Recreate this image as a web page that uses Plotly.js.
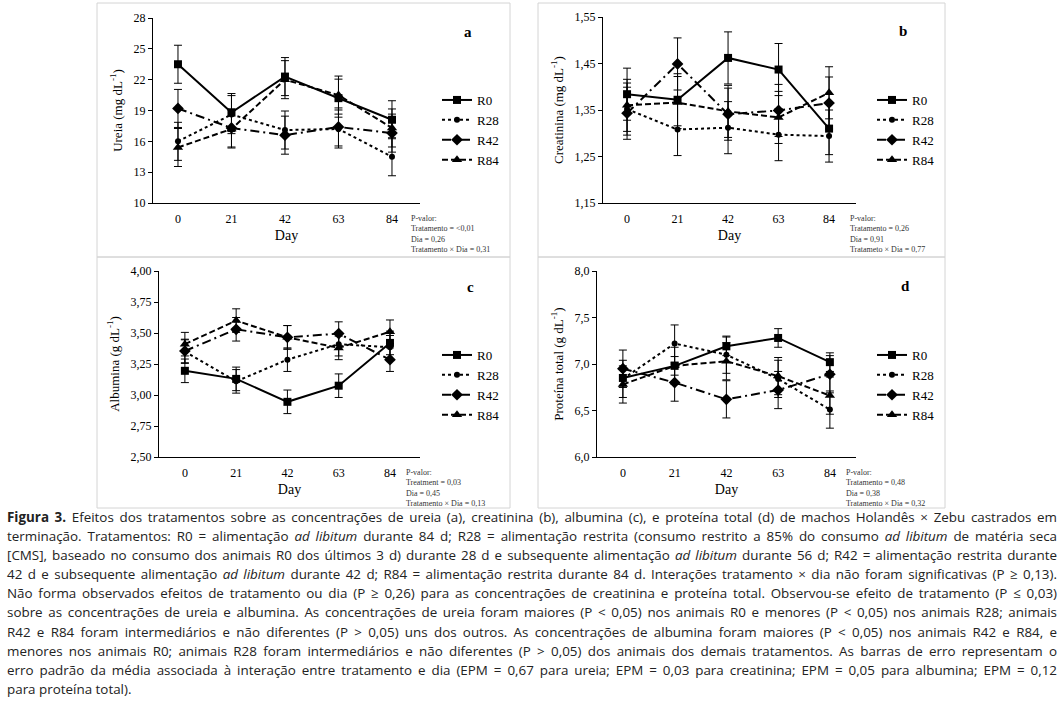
<!DOCTYPE html>
<html>
<head>
<meta charset="utf-8">
<script src="https://cdn.plot.ly/plotly-3.0.1.min.js"></script>
<style>
  html, body { margin: 0; padding: 0; background: #fff; }
  #wrap { position: relative; width: 1064px; height: 709px; overflow: hidden; }
  #chart { position: absolute; left: 0; top: 0; width: 1064px; height: 709px; }
  #caption { position: absolute; left: 7px; top: 508px; width: 1050px; font-family: "Open Sans", sans-serif; font-size: 13.4px; color: #222; }
  #caption div { height: 19.1px; line-height: 19.1px; white-space: nowrap; text-align: justify; text-align-last: justify; }
  #caption div.last { text-align-last: left; }
</style>
</head>
<body>
<div id="wrap">
  <div id="chart"></div>
  <div id="caption"></div>
</div>
<script>
// ---------- data ----------
const days = [0, 21, 42, 63, 84];
const dayLabels = ['0', '21', '42', '63', '84'];
const seriesNames = ['R0', 'R28', 'R42', 'R84'];

// (a) Ureia (mg dL-1)
const ureiaR0  = [23.5, 18.8, 22.3, 20.2, 18.1];
const ureiaR28 = [16.0, 18.6, 17.1, 17.2, 14.5];
const ureiaR42 = [19.2, 17.3, 16.6, 17.4, 16.8];
const ureiaR84 = [15.4, 17.2, 22.0, 20.5, 17.3];
const ureiaSE  = [1.85, 1.85, 1.85, 1.85, 1.85];

// (b) Creatinina (mg dL-1)
const creatR0  = [1.384, 1.372, 1.462, 1.437, 1.310];
const creatR28 = [1.352, 1.308, 1.312, 1.297, 1.294];
const creatR42 = [1.343, 1.449, 1.341, 1.349, 1.365];
const creatR84 = [1.360, 1.366, 1.347, 1.334, 1.387];
const creatSE  = [0.056, 0.056, 0.056, 0.056, 0.056];

// (c) Albumina (g dL-1)
const albR0  = [3.195, 3.130, 2.945, 3.075, 3.420];
const albR28 = [3.350, 3.110, 3.285, 3.410, 3.385];
const albR42 = [3.355, 3.530, 3.465, 3.495, 3.285];
const albR84 = [3.410, 3.600, 3.465, 3.380, 3.510];
const albSE  = [0.095, 0.095, 0.095, 0.095, 0.095];

// (d) Proteína total (g dL-1)
const protR0  = [6.85, 6.98, 7.19, 7.28, 7.02];
const protR28 = [6.84, 7.22, 7.10, 6.84, 6.51];
const protR42 = [6.95, 6.80, 6.62, 6.72, 6.89];
const protR84 = [6.78, 6.98, 7.03, 6.87, 6.66];
const protSER0 = [0.10, 0.10, 0.10, 0.10, 0.10];
const protSE   = [0.20, 0.20, 0.20, 0.20, 0.20];

const yTitles = ['Ureia (mg dL<sup>-1</sup>)', 'Creatinina (mg dL<sup>-1</sup>)', 'Albumina (g dL<sup>-1</sup>)', 'Proteína total (g dL<sup>-1</sup>)'];
const panelLetters = ['a', 'b', 'c', 'd'];
const pTexts = [
  'P-valor:<br>Tratamento = <0,01<br>Dia = 0,26<br>Tratamento × Dia = 0,31',
  'P-valor:<br>Tratamento = 0,26<br>Dia = 0,91<br>Tratameto × Dia = 0,77',
  'P-valor:<br>Treatment = 0,03<br>Dia = 0,45<br>Tratamento × Dia = 0,13',
  'P-valor:<br>Tratamento = 0,48<br>Dia = 0,38<br>Tratamento × Dia = 0,32'
];
const captionLines = [
  '<b>Figura 3.</b> Efeitos dos tratamentos sobre as concentrações de ureia (a), creatinina (b), albumina (c), e proteína total (d) de machos Holandês × Zebu castrados em',
  'terminação. Tratamentos: R0 = alimentação <i>ad libitum</i> durante 84 d; R28 = alimentação restrita (consumo restrito a 85% do consumo <i>ad libitum</i> de matéria seca',
  '[CMS], baseado no consumo dos animais R0 dos últimos 3 d) durante 28 d e subsequente alimentação <i>ad libitum</i> durante 56 d; R42 = alimentação restrita durante',
  '42 d e subsequente alimentação <i>ad libitum</i> durante 42 d; R84 = alimentação restrita durante 84 d. Interações tratamento × dia não foram significativas (P ≥ 0,13).',
  'Não forma observados efeitos de tratamento ou dia (P ≥ 0,26) para as concentrações de creatinina e proteína total. Observou-se efeito de tratamento (P ≤ 0,03)',
  'sobre as concentrações de ureia e albumina. As concentrações de ureia foram maiores (P < 0,05) nos animais R0 e menores (P < 0,05) nos animais R28; animais',
  'R42 e R84 foram intermediários e não diferentes (P > 0,05) uns dos outros. As concentrações de albumina foram maiores (P < 0,05) nos animais R42 e R84, e',
  'menores nos animais R0; animais R28 foram intermediários e não diferentes (P > 0,05) dos animais dos demais tratamentos. As barras de erro representam o',
  'erro padrão da média associada à interação entre tratamento e dia (EPM = 0,67 para ureia; EPM = 0,03 para creatinina; EPM = 0,05 para albumina; EPM = 0,12',
  'para proteína total).'
];

// ---------- styles ----------
const W = 1064, H = 709;
const SERIF = 'Liberation Serif, Times New Roman, serif';
const styles = [
  {symbol: 'square', size: 8, dash: 'solid'},
  {symbol: 'circle', size: 6, dash: 'dot'},
  {symbol: 'diamond', size: 9, dash: '9px,4px,2px,4px'},
  {symbol: 'triangle-up', size: 9, dash: '6px,3px'}
];
const panels = [
  {series: [ureiaR0, ureiaR28, ureiaR42, ureiaR84], se: [ureiaSE, ureiaSE, ureiaSE, ureiaSE],
   px: [153, 420], py: [18, 203], xr: [-9.8, 95], yr: [10, 28], dtick: 3, fmt: 'd',
   frame: [97, 3, 510, 257], leg: [437, 85], letter: [468, 32], ptxt: [409, 212]},
  {series: [creatR0, creatR28, creatR42, creatR84], se: [creatSE, creatSE, creatSE, creatSE],
   px: [603, 856], py: [17, 203], xr: [-10, 95.2], yr: [1.15, 1.55], dtick: 0.1, fmt: '.2f',
   frame: [538, 3, 945, 257], leg: [872, 85], letter: [903, 31], ptxt: [848, 212]},
  {series: [albR0, albR28, albR42, albR84], se: [albSE, albSE, albSE, albSE],
   px: [159, 420], py: [271, 457], xr: [-10.6, 96.3], yr: [2.5, 4.0], dtick: 0.25, fmt: '.2f',
   frame: [97, 257, 510, 508], leg: [437, 340], letter: [470, 287], ptxt: [404, 466]},
  {series: [protR0, protR28, protR42, protR84], se: [protSER0, protSE, protSE, protSE],
   px: [597, 856], py: [271, 457], xr: [-10.5, 94.6], yr: [6.0, 8.0], dtick: 0.5, fmt: '.1f',
   frame: [538, 257, 945, 508], leg: [872, 340], letter: [905, 286], ptxt: [844, 466]}
];

const traces = [];
const layout = {
  width: W, height: H,
  margin: {l: 0, r: 0, t: 0, b: 0},
  paper_bgcolor: '#fff', plot_bgcolor: '#fff',
  separators: ',.',
  font: {family: SERIF, color: '#000'},
  shapes: [], annotations: []
};

panels.forEach((p, i) => {
  const n = i === 0 ? '' : String(i + 1);
  const legId = 'legend' + n;
  p.series.forEach((vals, s) => {
    const st = styles[s];
    traces.push({
      type: 'scatter', mode: 'lines+markers',
      x: days, y: vals, name: seriesNames[s],
      xaxis: 'x' + n, yaxis: 'y' + n, legend: legId,
      line: {color: '#000', width: 2, dash: st.dash},
      marker: {symbol: st.symbol, size: st.size, color: '#000'},
      error_y: {type: 'data', array: p.se[s], visible: true, color: '#000', thickness: 1, width: 4},
      hoverinfo: 'x+y+name'
    });
  });
  layout['xaxis' + n] = {
    domain: [p.px[0] / W, p.px[1] / W], anchor: 'y' + n,
    range: p.xr, tickvals: days, ticktext: dayLabels,
    showline: true, linecolor: '#000', linewidth: 1, ticks: '',
    ticklabelstandoff: 5,
    showgrid: false, zeroline: false, fixedrange: true,
    tickfont: {family: SERIF, size: 12, color: '#000'},
    title: {text: 'Day', font: {family: SERIF, size: 14, color: '#000'}, standoff: 4}
  };
  layout['yaxis' + n] = {
    domain: [(H - p.py[1]) / H, (H - p.py[0]) / H], anchor: 'x' + n,
    range: p.yr, dtick: p.dtick, tick0: p.yr[0], tickformat: p.fmt,
    showline: true, linecolor: '#000', linewidth: 1, ticks: 'outside', ticklen: 4, tickcolor: '#000',
    showgrid: false, zeroline: false, fixedrange: true,
    tickfont: {family: SERIF, size: 12, color: '#000'},
    title: {text: yTitles[i], font: {family: SERIF, size: 13, color: '#000'}, standoff: 8}
  };
  layout[legId] = {
    x: p.leg[0] / W, y: (H - p.leg[1]) / H, xanchor: 'left', yanchor: 'top',
    bgcolor: 'rgba(0,0,0,0)', borderwidth: 0,
    font: {family: SERIF, size: 13, color: '#000'},
    itemwidth: 30, tracegroupgap: 0
  };
  layout.shapes.push({
    type: 'rect', xref: 'paper', yref: 'paper',
    x0: p.frame[0] / W, x1: p.frame[2] / W,
    y0: (H - p.frame[3]) / H, y1: (H - p.frame[1]) / H,
    line: {color: '#d4d4d4', width: 1}
  });
  layout.annotations.push({
    xref: 'paper', yref: 'paper', x: p.letter[0] / W, y: (H - p.letter[1]) / H,
    text: '<b>' + panelLetters[i] + '</b>', showarrow: false,
    font: {family: SERIF, size: 15, color: '#000'}, xanchor: 'center', yanchor: 'middle'
  });
  layout.annotations.push({
    xref: 'paper', yref: 'paper', x: p.ptxt[0] / W, y: (H - p.ptxt[1]) / H,
    text: pTexts[i], showarrow: false, align: 'left',
    font: {family: SERIF, size: 8, color: '#333'}, xanchor: 'left', yanchor: 'top'
  });
});

Plotly.newPlot('chart', traces, layout, {displayModeBar: false, staticPlot: false});

const cap = document.getElementById('caption');
captionLines.forEach((ln, k) => {
  const d = document.createElement('div');
  if (k === captionLines.length - 1) d.className = 'last';
  d.innerHTML = ln.replace(/ < /g, ' &lt; ').replace(/ > /g, ' &gt; ');
  cap.appendChild(d);
});
</script>
</body>
</html>
